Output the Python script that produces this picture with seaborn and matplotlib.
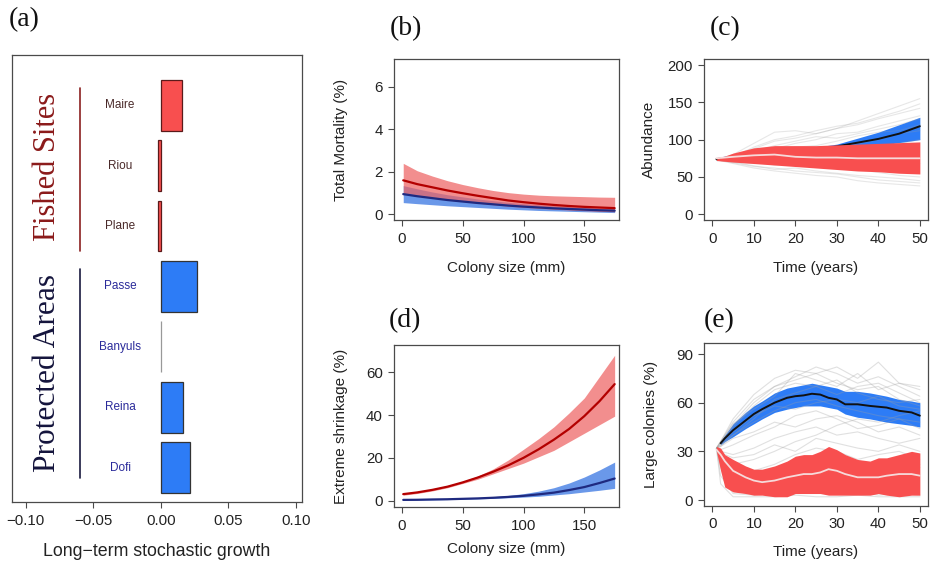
import seaborn as sns
import pandas as pd
import matplotlib as mpl
import matplotlib.pyplot as plt
import numpy as np

# ---------------------------------------------------------------- data
# (a) long-term stochastic growth per site
sites = ["Maire", "Riou", "Plane", "Passe", "Banyuls", "Reina", "Dofi"]
growth = [0.0157, -0.0018, -0.0018, 0.0267, 0.0002, 0.0163, 0.0215]
fished = ["Maire", "Riou", "Plane"]

# (b) total mortality vs colony size
size_mm = [1, 12.5, 25, 37.5, 50, 62.5, 75, 87.5, 100, 112.5, 125, 137.5, 150, 162.5, 175]
mort_red = [1.6, 1.42, 1.27, 1.12, 0.99, 0.87, 0.76, 0.65, 0.57, 0.5, 0.44, 0.39, 0.35, 0.32, 0.29]
mort_red_hi = [2.4, 2.05, 1.8, 1.58, 1.4, 1.25, 1.12, 1.02, 0.95, 0.9, 0.87, 0.85, 0.83, 0.81, 0.8]
mort_red_lo = [1.0, 0.9, 0.8, 0.7, 0.6, 0.52, 0.45, 0.38, 0.33, 0.28, 0.24, 0.2, 0.17, 0.14, 0.12]
mort_blue = [0.95, 0.85, 0.76, 0.67, 0.6, 0.53, 0.47, 0.41, 0.36, 0.32, 0.28, 0.25, 0.22, 0.19, 0.17]
mort_blue_hi = [1.35, 1.2, 1.05, 0.92, 0.82, 0.72, 0.64, 0.56, 0.5, 0.45, 0.4, 0.36, 0.33, 0.3, 0.28]
mort_blue_lo = [0.55, 0.5, 0.45, 0.4, 0.36, 0.32, 0.28, 0.24, 0.21, 0.18, 0.16, 0.14, 0.12, 0.1, 0.08]

# (d) extreme shrinkage vs colony size
shr_red = [3, 3.8, 5, 6.5, 8.5, 10.8, 13.5, 16.5, 20, 24, 28.5, 33.5, 39.5, 46.5, 54.5]
shr_red_hi = [3.5, 4.2, 5.5, 7, 9, 11.5, 14.8, 19, 24, 29, 34.5, 41, 48, 58, 68]
shr_red_lo = [2.5, 3.3, 4.5, 6, 8, 10, 12.5, 15, 17.5, 20.5, 23.5, 27.5, 31.5, 35.5, 39.5]
shr_blue = [0.3, 0.35, 0.5, 0.6, 0.8, 1.0, 1.3, 1.7, 2.2, 2.9, 3.7, 4.9, 6.3, 8.2, 10.3]
shr_blue_hi = [0.5, 0.55, 0.7, 0.85, 1.0, 1.3, 1.8, 2.4, 3.2, 4.4, 6.0, 8.2, 11, 14.3, 18]
shr_blue_lo = [0.2, 0.25, 0.3, 0.45, 0.6, 0.8, 1.0, 1.3, 1.6, 2.0, 2.6, 3.2, 4.0, 4.8, 5.7]

# (c) abundance projections
years_c = [1, 5, 10, 15, 20, 25, 30, 35, 40, 45, 50]
ab_red_hi = [74, 82, 89, 92, 92, 92, 93, 94, 95, 96, 97]
ab_red_lo = [72, 70, 68, 66, 64, 62, 60, 58, 57, 55, 54]
ab_red_med = [75, 77, 79, 80, 77, 76, 76, 75, 75, 75, 75]
ab_blue_hi = [76, 80, 84, 86, 88, 90, 94, 102, 110, 120, 130]
ab_blue_lo = [72, 73, 76, 78, 80, 82, 84, 88, 92, 96, 100]
ab_blue_mean = [74, 76, 80, 82, 84, 86, 91, 96, 101, 108, 118]
ab_sims = [
    [73, 80, 95, 110, 112, 108, 115, 125, 135, 145, 155],
    [73, 78, 88, 98, 102, 108, 115, 120, 128, 135, 142],
    [73, 76, 82, 88, 95, 100, 108, 110, 118, 125, 132],
    [73, 75, 80, 85, 90, 92, 98, 105, 110, 112, 120],
    [73, 72, 76, 78, 80, 82, 85, 88, 92, 95, 100],
    [73, 70, 68, 70, 72, 70, 68, 66, 64, 65, 68],
    [73, 70, 65, 60, 62, 58, 55, 52, 50, 48, 45],
    [73, 68, 62, 58, 55, 52, 50, 45, 42, 40, 38],
    [73, 74, 78, 82, 85, 88, 90, 95, 100, 108, 112],
    [73, 72, 70, 66, 68, 64, 62, 60, 56, 52, 50],
    [73, 77, 90, 100, 105, 112, 118, 122, 130, 138, 148],
    [73, 74, 84, 92, 98, 104, 102, 108, 114, 120, 128],
    [73, 69, 64, 62, 58, 56, 54, 50, 46, 44, 42],
]

# (e) large colonies projections
years_e_red = [1, 2, 3, 5, 8, 10, 12, 15, 18, 20, 22, 24, 26, 28, 30, 32, 35, 38, 40, 42, 45, 48, 50]
lc_red_hi = [33, 32, 28, 25, 21, 19, 19, 21, 24, 27, 28, 28, 30, 33, 31, 28, 25, 24, 26, 26, 28, 30, 29]
lc_red_lo = [30, 18, 8, 5, 4, 3, 3, 2, 2, 4, 4, 4, 4, 3, 3, 3, 3, 3, 4, 3, 2, 3, 3]
lc_red_med = [31, 28, 24, 18, 14, 12, 11, 12, 14, 15, 16, 16, 17, 19, 18, 16, 14, 14, 14, 15, 16, 16, 15]
years_e_blue = [2, 3, 5, 8, 10, 12, 15, 18, 20, 22, 24, 26, 28, 30, 32, 35, 38, 40, 42, 45, 48, 50]
lc_blue_mean = [35, 38, 43, 49, 53, 56, 60, 63, 64, 64.5, 65.5, 65, 63, 62, 59, 59, 58, 57.5, 57, 55, 54, 52]
lc_blue_hi = [36, 40, 47, 54, 58, 61, 66, 69, 70, 71, 72, 71, 70, 69, 67, 67, 66, 65, 64, 62, 61, 60]
lc_blue_lo = [34, 36, 39, 44, 47, 50, 54, 56, 57, 58, 58, 58, 57, 56, 53, 51, 50, 49, 48, 47, 46, 45]
years_e_sim = [1, 2, 5, 10, 15, 20, 25, 30, 35, 40, 45, 50]
lc_sims = [
    [32, 36, 50, 65, 75, 80, 78, 82, 75, 85, 72, 68],
    [32, 35, 45, 58, 68, 72, 70, 65, 70, 72, 66, 60],
    [32, 34, 40, 48, 55, 60, 62, 58, 55, 52, 50, 48],
    [32, 33, 38, 42, 48, 45, 50, 52, 48, 42, 45, 40],
    [32, 30, 28, 32, 38, 42, 45, 40, 42, 38, 35, 38],
    [32, 25, 15, 18, 22, 28, 32, 30, 25, 28, 30, 25],
    [32, 20, 8, 10, 12, 15, 18, 22, 15, 12, 18, 20],
    [32, 15, 4, 3, 5, 8, 6, 4, 5, 3, 4, 3],
    [32, 10, 2, 2, 2, 3, 2, 2, 3, 2, 2, 2],
    [32, 36, 48, 62, 70, 76, 82, 78, 72, 76, 70, 64],
    [32, 28, 22, 25, 30, 36, 40, 46, 50, 48, 52, 55],
    [32, 34, 42, 52, 58, 56, 60, 62, 60, 64, 58, 56],
    [32, 35, 46, 60, 70, 74, 78, 72, 68, 70, 62, 58],
    [32, 33, 40, 50, 62, 66, 70, 74, 66, 62, 60, 62],
    [32, 31, 34, 40, 45, 52, 55, 50, 44, 46, 50, 44],
    [32, 29, 26, 28, 34, 30, 38, 35, 32, 30, 34, 30],
    [32, 36, 47, 56, 64, 78, 74, 70, 78, 68, 72, 70],
    [32, 22, 12, 14, 18, 20, 25, 28, 20, 22, 26, 22],
]

# ---------------------------------------------------------------- style
sns.set_style("ticks")
mpl.rcParams.update({
    "font.family": ["Liberation Sans", "DejaVu Sans"],
    "font.size": 11,
    "axes.edgecolor": "#4a4a4a",
    "axes.linewidth": 0.9,
    "xtick.color": "#4a4a4a",
    "ytick.color": "#4a4a4a",
    "xtick.labelcolor": "#222222",
    "ytick.labelcolor": "#222222",
    "xtick.labelsize": 10.8,
    "ytick.labelsize": 10.8,
    "xtick.major.size": 4.5,
    "ytick.major.size": 4.5,
    "xtick.major.pad": 4,
    "ytick.major.pad": 3.5,
    "axes.labelcolor": "#222222",
    "axes.labelsize": 11,
})

RED_BAR = "#f84f4f"
BLUE_BAR = "#2d7cf6"
RED_LINE = "#b30000"
BLUE_LINE = "#1f2a80"
SERIF = ["Liberation Serif", "DejaVu Serif"]

fig = plt.figure(figsize=(9.31, 5.74), dpi=100)
ax_a = fig.add_axes([0.0129, 0.1254, 0.3115, 0.7787])
ax_b = fig.add_axes([0.4232, 0.6167, 0.2417, 0.2800])
ax_c = fig.add_axes([0.7562, 0.6167, 0.2403, 0.2800])
ax_d = fig.add_axes([0.4232, 0.1172, 0.2417, 0.2817])
ax_e = fig.add_axes([0.7562, 0.1190, 0.2403, 0.2829])

# ---------------------------------------------------------------- (a)
df_a = pd.DataFrame({"site": sites, "growth": growth})
bar_cols = [RED_BAR if s in fished else BLUE_BAR for s in sites]
sns.barplot(data=df_a, x="growth", y="site", hue="site", palette=bar_cols,
            saturation=1, orient="h", width=0.84, legend=False, ax=ax_a)
for p, s in zip(ax_a.patches, sites):
    p.set_edgecolor("#999999" if s == "Banyuls" else ("#5a1a1a" if s in fished else "#333333"))
    p.set_linewidth(0.9)
ax_a.set_xlim(-0.110, 0.1045)
ax_a.set_ylim(6.57, -0.83)
ax_a.set_yticks([])
ax_a.set_ylabel("")
ax_a.set_xticks([-0.10, -0.05, 0.0, 0.05, 0.10])
ax_a.set_xticklabels(["\u22120.10", "\u22120.05", "0.00", "0.05", "0.10"])
ax_a.set_xlabel("Long\u2212term stochastic growth", fontsize=12.8)
ax_a.xaxis.set_label_coords(0.5, -0.111)
ax_a.xaxis.label.set_va("center")
for i, s in enumerate(sites):
    ax_a.text(-0.030, i, s, ha="center", va="center", fontsize=8.5,
              color="#4a2a2a" if s in fished else "#2a2a9a")
ax_a.plot([-0.060, -0.060], [-0.28, 2.41], color="#8b2020", lw=1.2)
ax_a.plot([-0.060, -0.060], [2.72, 6.17], color="#1a1a40", lw=1.2)
ax_a.text(-0.084, 1.02, "Fished Sites", rotation=90, ha="center", va="center",
          fontsize=22, family=SERIF, color="#8b1a1a")
ax_a.text(-0.084, 4.43, "Protected Areas", rotation=90, ha="center", va="center",
          fontsize=22.6, family=SERIF, color="#14143c")


def band_panel(ax, x, mid_r, lo_r, hi_r, mid_b, lo_b, hi_b):
    ax.fill_between(x, lo_b, hi_b, color="#5086e6", alpha=0.85, lw=0)
    ax.fill_between(x, lo_r, hi_r, color="#ee6262", alpha=0.72, lw=0)
    sns.lineplot(x=x, y=mid_b, color=BLUE_LINE, lw=1.6, ax=ax)
    sns.lineplot(x=x, y=mid_r, color=RED_LINE, lw=1.6, ax=ax)
    ax.set_xlim(-6.6, 178.6)
    ax.set_xticks([0, 50, 100, 150])
    ax.set_xlabel("Colony size (mm)")


# ---------------------------------------------------------------- (b)
band_panel(ax_b, size_mm, mort_red, mort_red_lo, mort_red_hi,
           mort_blue, mort_blue_lo, mort_blue_hi)
ax_b.set_ylim(-0.27, 7.3)
ax_b.set_yticks([0, 2, 4, 6])
ax_b.set_ylabel("Total Mortality (%)")
ax_b.yaxis.set_label_coords(-0.204, 0.5)
ax_b.xaxis.set_label_coords(0.5, -0.297)
ax_b.xaxis.label.set_va("center")

# ---------------------------------------------------------------- (d)
band_panel(ax_d, size_mm, shr_red, shr_red_lo, shr_red_hi,
           shr_blue, shr_blue_lo, shr_blue_hi)
ax_d.set_ylim(-2.9, 72.8)
ax_d.set_yticks([0, 20, 40, 60])
ax_d.set_ylabel("Extreme shrinkage (%)")
ax_d.yaxis.set_label_coords(-0.204, 0.5)
ax_d.xaxis.set_label_coords(0.5, -0.263)
ax_d.xaxis.label.set_va("center")

# ---------------------------------------------------------------- (c)
sim_c = pd.DataFrame([(k, yr, v) for k, row in enumerate(ab_sims)
                      for yr, v in zip(years_c, row)], columns=["run", "year", "val"])
sns.lineplot(data=sim_c, x="year", y="val", units="run", estimator=None,
             color="#a0a0a0", alpha=0.25, lw=0.8, ax=ax_c)
ax_c.fill_between(years_c, ab_blue_lo, ab_blue_hi, color=BLUE_BAR, lw=0, zorder=1.5)
sns.lineplot(x=years_c, y=ab_blue_mean, color="#111111", lw=1.4, ax=ax_c)
ax_c.fill_between(years_c, ab_red_lo, ab_red_hi, color=RED_BAR, lw=0, zorder=2.5)
sns.lineplot(x=years_c, y=ab_red_med, color="#f6dada", lw=1.3, ax=ax_c, zorder=3)
ax_c.set_xlim(-2.0, 51.9)
ax_c.set_ylim(-7.7, 207.7)
ax_c.set_xticks([0, 10, 20, 30, 40, 50])
ax_c.set_yticks([0, 50, 100, 150, 200])
ax_c.set_xlabel("Time (years)")
ax_c.set_ylabel("Abundance")
ax_c.yaxis.set_label_coords(-0.215, 0.5)
ax_c.xaxis.set_label_coords(0.5, -0.297)
ax_c.xaxis.label.set_va("center")

# ---------------------------------------------------------------- (e)
sim_e = pd.DataFrame([(k, yr, v) for k, row in enumerate(lc_sims)
                      for yr, v in zip(years_e_sim, row)], columns=["run", "year", "val"])
sns.lineplot(data=sim_e, x="year", y="val", units="run", estimator=None,
             color="#a0a0a0", alpha=0.32, lw=0.8, ax=ax_e)
ax_e.fill_between(years_e_blue, lc_blue_lo, lc_blue_hi, color=BLUE_BAR, lw=0, zorder=1.5)
sns.lineplot(x=years_e_blue, y=lc_blue_mean, color="#111111", lw=1.4, ax=ax_e)
ax_e.fill_between(years_e_red, lc_red_lo, lc_red_hi, color=RED_BAR, lw=0, zorder=2.5)
sns.lineplot(x=years_e_red, y=lc_red_med, color="#f6dada", lw=1.3, ax=ax_e, zorder=3)
ax_e.set_xlim(-2.0, 51.9)
ax_e.set_ylim(-3.5, 96.6)
ax_e.set_xticks([0, 10, 20, 30, 40, 50])
ax_e.set_yticks([0, 30, 60, 90])
ax_e.set_xlabel("Time (years)")
ax_e.set_ylabel("Large colonies (%)")
ax_e.yaxis.set_label_coords(-0.206, 0.5)
ax_e.xaxis.set_label_coords(0.5, -0.287)
ax_e.xaxis.label.set_va("center")

for ax in [ax_a, ax_b, ax_c, ax_d, ax_e]:
    for sp in ax.spines.values():
        sp.set_visible(True)

# panel letters
for lab, x, y in [("(a)", 24, 20), ("(b)", 406, 29), ("(c)", 725, 29),
                  ("(d)", 405, 321), ("(e)", 719, 321)]:
    fig.text(x / 931, 1 - y / 574, lab, ha="center", va="center",
             fontsize=20, family=SERIF, color="#111111")

fig.savefig("out.png", dpi=100)
